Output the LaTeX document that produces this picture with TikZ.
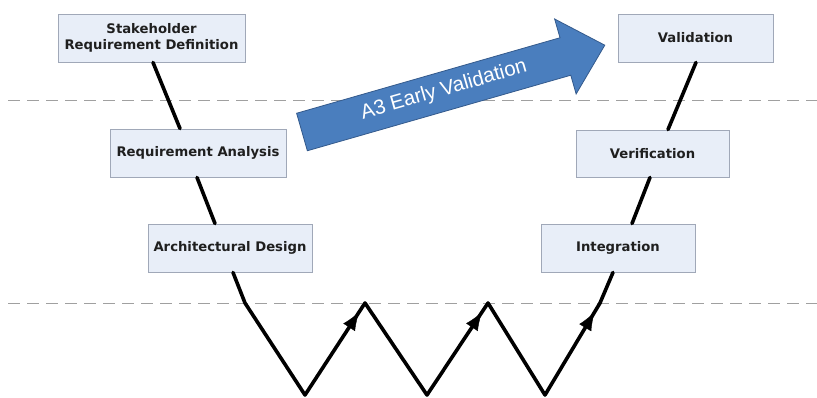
\documentclass[tikz,border=0pt]{standalone}
\usepackage{fontspec}
\newfontfamily\boxfont{DejaVu Sans}
\newfontfamily\arrowfont{Liberation Sans}
\usetikzlibrary{arrows.meta,decorations.markings}
\definecolor{boxfill}{RGB}{232,238,248}
\definecolor{boxline}{RGB}{160,168,184}
\definecolor{bigarrow}{RGB}{74,126,190}
\definecolor{bigarrowline}{RGB}{52,90,140}
\definecolor{dashgray}{RGB}{160,160,160}
\tikzset{
  stage/.style={draw=boxline, line width=0.9pt, fill=boxfill, inner sep=0pt,
    font=\boxfont\bfseries\fontsize{13.2}{16.5}\selectfont, text=black!88,
    align=center},
  vline/.style={line width=3.6pt, line join=round, line cap=round, black},
  level/.style={dashgray, line width=1pt, dash pattern=on 12pt off 7pt},
  upmark/.style={postaction={decorate}, decoration={markings,
    mark=at position 0.9 with {\arrow{Latex[length=18pt,width=14pt]}}}}
}
\begin{document}
\begin{tikzpicture}[x=1pt,y=-1pt]
\useasboundingbox (0,0) rectangle (817,397);

% level separators
\coordinate (l1a) at (8,100);  \coordinate (l1b) at (817,100);
\coordinate (l2a) at (8,303);  \coordinate (l2b) at (817,303);
\draw[level] (l1a) -- (l1b);
\draw[level] (l2a) -- (l2b);

% stages
\node[stage, minimum width=187pt, minimum height=48pt] (sr) at (151.5,38)
  {Stakeholder\\Requirement Definition};
\node[stage, minimum width=176pt, minimum height=48pt] (ra) at (198,153)
  {Requirement Analysis};
\node[stage, minimum width=164pt, minimum height=48pt] (ad) at (230,248)
  {Architectural Design};
\node[stage, minimum width=155pt, minimum height=48pt] (va) at (695.5,38)
  {Validation};
\node[stage, minimum width=153pt, minimum height=47pt] (ve) at (652.5,153.5)
  {Verification};
\node[stage, minimum width=154pt, minimum height=48pt] (in) at (618,248)
  {Integration};

% left branch
\draw[vline] ([xshift=1.5pt]sr.south) -- ([xshift=-18pt]ra.north);
\draw[vline] ([xshift=-1pt]ra.south) -- ([xshift=-15pt]ad.north);

% zig-zag bottom
\coordinate (k0) at (245,303);
\coordinate (b1) at (305,395);
\coordinate (p1) at (365,303);
\coordinate (b2) at (427,395);
\coordinate (p2) at (488,303);
\coordinate (b3) at (545,395);
\coordinate (p3) at (600,303);
\draw[vline] ([xshift=3pt]ad.south) -- (k0) -- (b1) -- (p1) -- (b2) -- (p2)
  -- (b3) -- (p3) -- ([xshift=-5pt]in.south);
\path[upmark] (b1) -- (p1);
\path[upmark] (b2) -- (p2);
\path[upmark] (b3) -- (p3);

% right branch
\draw[vline] ([xshift=14pt]in.north) -- ([xshift=-2.5pt]ve.south);
\draw[vline] ([xshift=15.5pt]ve.north) -- ([xshift=0.5pt]va.south);

% early validation arrow
\begin{scope}[shift={(302,132)}, rotate=16]
  \draw[fill=bigarrow, draw=bigarrowline, line width=0.8pt, line join=miter]
    (0,19.5) coordinate (t1) -- (274,19.5) -- (274,39) -- (315,0) coordinate (tip)
    -- (274,-39) -- (274,-19.5) -- (0,-19.5) coordinate (t2) -- cycle;
  \coordinate (evc) at (148,-1);
\end{scope}
\node[text=white, font=\arrowfont\fontsize{20.5}{24}\selectfont, rotate=16]
  (ev) at (evc) {A3 Early Validation};
\end{tikzpicture}
\end{document}
